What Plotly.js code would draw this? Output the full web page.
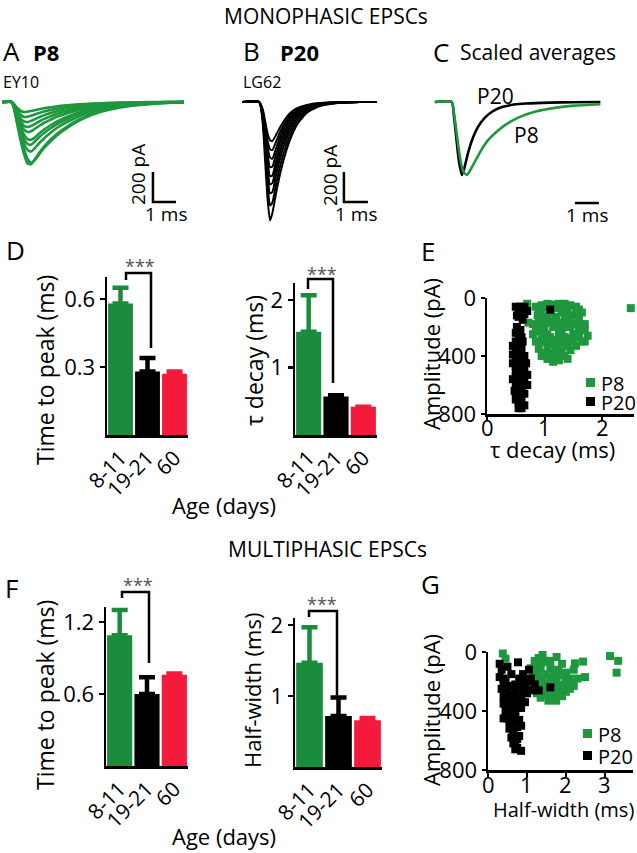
<!DOCTYPE html>
<html><head><meta charset="utf-8">
<script src="https://cdn.plot.ly/plotly-3.0.1.min.js"></script>
<style>html,body{margin:0;padding:0;background:#fff;}#chart{width:637px;height:853px;}</style>
</head><body><div id="chart"></div>
<script>
// ---------- DATA ----------
// Panel A: P8 monophasic EPSCs (time ms, current pA)
const tA = [0.1, 0.5, 0.6, 0.75, 0.9, 1.05, 1.2, 1.35, 1.5, 1.7, 1.9, 2.2, 2.5, 2.9, 3.4, 4.0, 4.8, 5.6, 6.5, 7.3, 8.0];
const p8Trace1 = [0, 0, -40, -150, -260, -350, -410, -415, -385, -340, -300, -250, -210, -165, -120, -80, -45, -25, -12, -5, 0];
const p8Trace2 = [0, 0, -35, -130, -235, -320, -380, -405, -390, -350, -310, -262, -220, -175, -128, -85, -50, -28, -14, -6, 0];
const p8Trace3 = [0, 0, -30, -120, -210, -280, -320, -330, -310, -275, -245, -205, -170, -135, -98, -65, -38, -20, -10, -4, 0];
const p8Trace4 = [0, 0, -30, -110, -190, -250, -280, -285, -265, -235, -208, -175, -145, -115, -82, -55, -32, -17, -8, -3, 0];
const p8Trace5 = [0, 0, -25, -100, -170, -220, -248, -252, -238, -210, -185, -155, -128, -100, -72, -48, -28, -15, -7, -3, 0];
const p8Trace6 = [0, 0, -25, -90, -150, -185, -200, -195, -180, -160, -140, -118, -97, -76, -55, -36, -21, -11, -5, -2, 0];
const p8Trace7 = [0, 0, -20, -80, -130, -160, -167, -160, -148, -130, -114, -95, -78, -61, -44, -29, -17, -9, -4, -2, 0];
const p8Trace8 = [0, 0, -20, -70, -110, -130, -133, -126, -116, -102, -89, -74, -61, -48, -34, -22, -13, -7, -3, -1, 0];
const p8Trace9 = [0, 0, -15, -55, -85, -100, -98, -92, -84, -74, -64, -53, -44, -34, -24, -16, -9, -5, -2, -1, 0];
const p8Trace10 = [0, 0, -12, -40, -60, -67, -64, -60, -55, -48, -42, -35, -28, -22, -16, -10, -6, -3, -1, 0, 0];
// Panel B: P20 monophasic EPSCs
const tB = [0.1, 0.8, 0.95, 1.05, 1.15, 1.25, 1.35, 1.5, 1.7, 1.9, 2.1, 2.4, 2.8, 3.3, 4.0, 5.0, 5.7];
const p20Trace1 = [0, 0, -150, -400, -650, -790, -740, -610, -460, -340, -245, -145, -70, -28, -8, 0, 0];
const p20Trace2 = [0, 0, -120, -340, -560, -690, -670, -550, -410, -300, -215, -125, -60, -24, -7, 0, 0];
const p20Trace3 = [0, 0, -110, -300, -490, -610, -600, -490, -360, -260, -185, -108, -52, -20, -6, 0, 0];
const p20Trace4 = [0, 0, -100, -280, -450, -550, -540, -440, -320, -230, -160, -92, -44, -17, -5, 0, 0];
const p20Trace5 = [0, 0, -90, -250, -400, -495, -490, -395, -285, -200, -138, -78, -37, -14, -4, 0, 0];
const p20Trace6 = [0, 0, -80, -220, -350, -435, -430, -350, -250, -175, -118, -66, -31, -12, -4, 0, 0];
const p20Trace7 = [0, 0, -70, -190, -300, -370, -378, -310, -220, -150, -100, -56, -26, -10, -3, 0, 0];
const p20Trace8 = [0, 0, -60, -160, -260, -315, -320, -265, -190, -130, -86, -48, -22, -8, -2, 0, 0];
const p20Trace9 = [0, 0, -50, -130, -210, -255, -260, -220, -160, -110, -72, -40, -19, -7, -2, 0, 0];
// Panel C: scaled averages (normalised)
const tAvgP20 = [0.2, 0.9, 1.0, 1.1, 1.2, 1.33, 1.45, 1.6, 1.8, 2.0, 2.3, 2.6, 3.0, 3.5, 4.0, 5.0, 6.0, 7.1];
const avgP20 = [0, 0, -0.2, -0.5, -0.8, -1.0, -0.88, -0.68, -0.48, -0.34, -0.21, -0.13, -0.07, -0.035, -0.02, -0.008, -0.003, 0];
const tAvgP8 = [0.2, 0.9, 1.0, 1.1, 1.2, 1.3, 1.4, 1.54, 1.7, 1.9, 2.1, 2.4, 2.8, 3.2, 3.7, 4.4, 5.2, 6.0, 7.1];
const avgP8 = [0, 0, -0.15, -0.4, -0.65, -0.85, -0.96, -1.0, -0.92, -0.8, -0.68, -0.53, -0.4, -0.3, -0.21, -0.13, -0.08, -0.05, -0.03];
// Bar panels
const ageCats = ['8-11', '19-21', '60'];
const monoTTP = [0.58, 0.28, 0.27], monoTTPerr = [0.07, 0.06, 0.01];
const monoTau = [1.53, 0.57, 0.42], monoTauErr = [0.54, 0.02, 0.0];
const multiTTP = [1.09, 0.60, 0.76], multiTTPerr = [0.21, 0.14, 0.01];
const multiHW = [1.47, 0.72, 0.66], multiHWerr = [0.50, 0.26, 0.03];
// Scatter tick labels
const tauTicks = [0, 1, 2];
const hwTicks = [0, 1, 2, 3];
const ampTicks = [0, 400, 800];
// Panel E scatter (tau decay ms, amplitude pA)
const eP8Tau = [0.7,0.72,0.85,0.95,1.05,1.15,1.25,1.35,1.45,1.55,1.5,1.6,1.7,1.75,1.65,1.55,1.45,1.35,1.25,1.15,1.05,0.95,0.9,0.85,0.8,0.85,0.9,0.95,1.0,1.1,1.2,1.3,1.4,1.35,1.25,1.15,1.05,1.0,1.1,1.2,1.3,1.4,1.5,1.45,1.6,1.55,1.05,1.15,1.25,0.95,0.88,1.0,1.1,1.2,1.3,1.4,1.5,1.6,1.4,1.2,2.5,1.3,1.15,0.95,1.05,
  0.9,1.0,1.1,1.2,1.3,1.45,1.35,1.5,1.6,1.7,1.25,1.05,0.95,1.0,1.1,1.2,1.3,1.4,0.9,0.8,1.65,1.55,1.45,1.3,1.15,1.25,1.05,1.35,1.6,1.7];
const eP8Amp = [40,170,60,50,40,45,40,40,50,60,120,150,220,260,300,330,360,400,430,440,420,400,350,300,250,200,150,100,150,100,130,100,150,200,250,200,250,300,320,350,300,280,250,200,230,180,350,380,380,250,120,200,270,290,170,330,300,80,90,70,70,230,160,180,130,
  80,60,50,200,330,300,140,180,190,180,180,170,300,380,400,410,380,420,230,180,100,100,130,60,300,330,290,270,270,300];
const eP20Tau = [0.5,0.55,0.6,0.65,0.7,0.62,0.55,0.65,0.55,0.6,0.5,0.45,0.5,0.55,0.45,0.5,0.55,0.6,0.62,0.65,0.6,0.55,0.5,0.6,0.65,0.55,0.62,0.5,0.55,0.6,0.65,0.5,0.55,0.6,0.5,0.55,0.6,0.5,0.55,0.65,0.68,0.7,0.52,0.58,1.1,
  0.45,0.5,0.45,0.6,0.65,0.55,0.6,0.6,0.5,0.6,0.7,0.48,0.52,0.58];
const eP20Amp = [60,100,80,110,90,150,130,60,250,270,300,330,360,330,390,410,390,350,300,400,430,450,470,480,500,510,540,540,570,580,560,600,620,640,650,680,690,700,720,740,450,600,200,220,80,
  450,500,560,620,660,760,760,520,240,400,530,640,120,60];
// Panel G scatter (half-width ms, amplitude pA)
const gP8HW = [0.38,0.45,1.2,1.3,1.4,1.25,1.35,1.5,1.6,1.76,1.7,1.8,1.9,2.0,1.95,1.85,1.7,1.55,1.45,1.35,1.3,1.4,1.55,1.65,1.75,1.85,2.1,2.0,2.23,2.44,2.49,2.3,2.2,1.15,1.25,3.13,3.34,3.3,1.6,1.5,1.1,1.9,2.1,
  1.2,1.4,1.6,1.3,1.45,1.6,1.8,1.9,2.0,1.75,1.65,1.25,1.35,2.2,1.15,1.5];
const gP8Amp = [10,45,80,40,20,120,100,150,110,34,150,120,160,200,250,280,300,330,280,250,200,180,220,230,200,220,250,140,77,65,170,180,120,170,280,27,60,140,280,60,110,80,180,
  60,70,60,150,220,170,250,300,270,330,320,230,310,230,250,250];
const gP20HW = [0.3,0.5,0.77,0.3,0.45,0.6,0.8,0.9,1.0,1.1,1.2,1.3,1.6,1.05,0.35,0.4,0.5,0.6,0.7,0.85,0.9,1.0,0.4,0.45,0.55,0.65,0.75,0.85,0.5,0.6,0.7,0.8,0.55,0.65,0.75,0.85,0.6,0.7,0.8,0.75,0.85,0.65,0.4,0.5,0.95,0.7,0.4,
  0.35,0.4,0.55,0.65,0.75,0.5,0.6,0.7,0.55,0.65,0.75,0.7,0.45,0.95,1.15,0.85,0.6,0.7];
const gP20Amp = [80,100,70,170,200,150,180,150,200,180,220,260,240,120,250,300,280,320,260,300,250,280,350,400,380,400,350,380,450,470,440,460,520,540,510,500,580,600,570,650,670,620,450,330,340,220,180,
  120,220,230,290,300,380,420,480,470,560,590,660,320,230,260,230,350,400];

// ---------- STYLE / LAYOUT ----------
const W = 637, H = 853;
const FONT = 'Open Sans, Noto Sans, sans-serif';
const GREEN = '#1f973f', BARGREEN = '#1a8c3c', RED = '#f31a3c', BLACK = '#000000';
const barColors = [BARGREEN, BLACK, RED];
const xd = (a, b) => [a / W, b / W];
const yd = (top, bot) => [1 - bot / H, 1 - top / H];
const PX = x => x / W, PY = y => 1 - y / H;

const traces = [];
const p8Set = [p8Trace1,p8Trace2,p8Trace3,p8Trace4,p8Trace5,p8Trace6,p8Trace7,p8Trace8,p8Trace9,p8Trace10];
p8Set.forEach(v => traces.push({x: tA, y: v, xaxis: 'x', yaxis: 'y', mode: 'lines',
  line: {color: GREEN, width: 2.6, shape: 'spline', smoothing: 0.5}}));
const p20Set = [p20Trace1,p20Trace2,p20Trace3,p20Trace4,p20Trace5,p20Trace6,p20Trace7,p20Trace8,p20Trace9];
p20Set.forEach(v => traces.push({x: tB, y: v, xaxis: 'x2', yaxis: 'y2', mode: 'lines',
  line: {color: BLACK, width: 2.0, shape: 'spline', smoothing: 0.5}}));
traces.push({x: tAvgP20, y: avgP20, xaxis: 'x3', yaxis: 'y3', mode: 'lines', line: {color: BLACK, width: 2.6, shape: 'spline', smoothing: 0.6}});
traces.push({x: tAvgP8, y: avgP8, xaxis: 'x3', yaxis: 'y3', mode: 'lines', line: {color: GREEN, width: 2.6, shape: 'spline', smoothing: 0.6}});
// scale bars (1 ms, 200 pA) in data units
const sbLine = {color: BLACK, width: 2.5};
traces.push({x: [6.65, 6.65, 7.65], y: [-467, -667, -667], xaxis: 'x', yaxis: 'y', mode: 'lines', line: sbLine});
traces.push({x: [4.33, 4.33, 5.33], y: [-467, -667, -667], xaxis: 'x2', yaxis: 'y2', mode: 'lines', line: sbLine});
traces.push({x: [6.04, 7.04], y: [-1.384, -1.384], xaxis: 'x3', yaxis: 'y3', mode: 'lines', line: sbLine});

function addBars(vals, errs, xa, ya) {
  vals.forEach((v, i) => traces.push({type: 'bar', x: [ageCats[i]], y: [v], xaxis: xa, yaxis: ya,
    marker: {color: barColors[i], line: {width: 0}},
    error_y: {type: 'data', array: [errs[i]], arrayminus: [0], symmetric: false, color: barColors[i], thickness: 4.5, width: 8}}));
}
addBars(monoTTP, monoTTPerr, 'x4', 'y4');
addBars(monoTau, monoTauErr, 'x5', 'y5');
addBars(multiTTP, multiTTPerr, 'x7', 'y7');
addBars(multiHW, multiHWerr, 'x8', 'y8');

const mk = c => ({symbol: 'square', size: 8, color: c, line: {width: 0}});
traces.push({x: eP8Tau, y: eP8Amp, xaxis: 'x6', yaxis: 'y6', mode: 'markers', marker: mk(GREEN), cliponaxis: false});
traces.push({x: eP20Tau, y: eP20Amp, xaxis: 'x6', yaxis: 'y6', mode: 'markers', marker: mk(BLACK), cliponaxis: false});
traces.push({x: gP8HW, y: gP8Amp, xaxis: 'x9', yaxis: 'y9', mode: 'markers', marker: mk(GREEN), cliponaxis: false});
traces.push({x: gP20HW, y: gP20Amp, xaxis: 'x9', yaxis: 'y9', mode: 'markers', marker: mk(BLACK), cliponaxis: false});
traces.forEach(t => { t.showlegend = false; t.hoverinfo = 'skip'; });

const hidden = (dom, range, anchor) => ({domain: dom, range: range, visible: false, fixedrange: true, anchor: anchor});
const tickFont = {family: FONT, size: 22, color: BLACK};
const barX = (dom, anchor) => ({domain: dom, anchor: anchor, type: 'category', showline: true, linewidth: 2.5, linecolor: BLACK,
  ticks: '', tickangle: -45, tickfont: {family: FONT, size: 21, color: BLACK}, showgrid: false, zeroline: false, range: [-0.5, 2.5]});
const barY = (dom, anchor, range, tv) => ({domain: dom, anchor: anchor, range: range, showline: true, linewidth: 2.5, linecolor: BLACK,
  ticks: 'outside', ticklen: 5, tickwidth: 2.5, tickcolor: BLACK, tickvals: tv, tickfont: tickFont, showgrid: false, zeroline: false});
const scX = (dom, anchor, range, tv, showLab) => ({domain: dom, anchor: anchor, range: range, showline: true, linewidth: 2.5, linecolor: BLACK,
  ticks: 'outside', ticklen: 4, tickwidth: 2, tickcolor: BLACK, tickvals: tv, tickfont: tickFont, showgrid: false, zeroline: false,
  showticklabels: showLab});

const layout = {
  width: W, height: H, margin: {l: 0, r: 0, t: 0, b: 0}, paper_bgcolor: '#fff', plot_bgcolor: 'rgba(0,0,0,0)',
  showlegend: false, barmode: 'overlay', bargap: 0.08, font: {family: FONT, color: BLACK},
  xaxis: hidden(xd(0, 190), [0, 190 / 23], 'y'),
  yaxis: hidden(yd(60, 240), [-920, 280], 'x'),
  xaxis2: hidden(xd(240, 380), [0, 140 / 24], 'y2'),
  yaxis2: hidden(yd(60, 240), [-920, 280], 'x2'),
  xaxis3: hidden(xd(430, 605), [0, 175 / 24], 'y3'),
  yaxis3: hidden(yd(60, 240), [-138 / 73, 42 / 73], 'x3'),
  xaxis4: barX(xd(107, 188), 'y4'),
  yaxis4: barY(yd(277, 435), 'x4', [0, 0.697], [0.3, 0.6]),
  xaxis5: barX(xd(295, 377), 'y5'),
  yaxis5: barY(yd(283, 435), 'x5', [0, 2.25], [1, 2]),
  xaxis6: scX(xd(487, 634), 'y6', [0, 2.556], tauTicks, false),
  yaxis6: scX(yd(298, 414), 'x6', [800, 0], ampTicks, true),
  xaxis7: barX(xd(106, 188), 'y7'),
  yaxis7: barY(yd(607, 766), 'x7', [0, 1.325], [0.6, 1.2]),
  xaxis8: barX(xd(295, 382), 'y8'),
  yaxis8: barY(yd(618, 767), 'x8', [0, 2.1], [1, 2]),
  xaxis9: scX(xd(488, 633), 'y9', [0, 3.72], hwTicks, false),
  yaxis9: scX(yd(652, 770), 'x9', [800, 0], ampTicks, true),
  shapes: [], annotations: []
};

// significance brackets (pixel positions)
function bracket(xl, xr, ytop, yl, yr) {
  const ln = {color: BLACK, width: 2.5};
  layout.shapes.push({type: 'path', xref: 'paper', yref: 'paper',
    path: `M ${PX(xl)} ${PY(yl)} L ${PX(xl)} ${PY(ytop)} L ${PX(xr)} ${PY(ytop)} L ${PX(xr)} ${PY(yr)}`, line: ln});
}
bracket(126, 151, 273, 280, 348);
bracket(308, 333, 279, 289, 383);
bracket(122, 149, 592, 598, 663);
bracket(309, 337, 611, 617, 697);

// legend squares
function sq(x, y, c) { layout.shapes.push({type: 'rect', xref: 'paper', yref: 'paper', x0: PX(x), x1: PX(x + 9), y0: PY(y + 9), y1: PY(y), fillcolor: c, line: {width: 0}}); }
sq(586, 378, GREEN); sq(586, 397, BLACK);
sq(583, 729, GREEN); sq(583, 751, BLACK);

function ann(text, x, y, size, o) {
  o = o || {};
  layout.annotations.push(Object.assign({text: text, x: PX(x), y: PY(y), xref: 'paper', yref: 'paper', showarrow: false,
    xanchor: 'center', yanchor: 'middle', font: {family: FONT, size: size, color: o.color || BLACK}}, o.extra || {}));
}
// x tick labels of the scatter panels, positioned on the axis scale
tauTicks.forEach(v => layout.annotations.push({text: String(v), x: v, xref: 'x6', y: PY(427), yref: 'paper', showarrow: false,
  xanchor: 'center', yanchor: 'middle', font: tickFont}));
hwTicks.forEach(v => layout.annotations.push({text: String(v), x: v, xref: 'x9', y: PY(784), yref: 'paper', showarrow: false,
  xanchor: 'center', yanchor: 'middle', font: tickFont}));

ann('MONOPHASIC EPSCs', 326, 16, 21);
ann('MULTIPHASIC EPSCs', 327, 549, 21);
ann('A', 1, 51, 26, {extra: {xanchor: 'left'}});
ann('<b>P8</b>', 31, 52, 22, {extra: {xanchor: 'left'}});
ann('EY10', 1, 82, 16, {extra: {xanchor: 'left'}});
ann('B', 241, 51, 26, {extra: {xanchor: 'left'}});
ann('<b>P20</b>', 278, 52, 22, {extra: {xanchor: 'left'}});
ann('LG62', 241, 82, 16, {extra: {xanchor: 'left'}});
ann('C', 431, 52, 26, {extra: {xanchor: 'left'}});
ann('Scaled averages', 458, 52, 21, {extra: {xanchor: 'left'}});
ann('200 pA', 138, 175, 19, {extra: {textangle: -90}});
ann('1 ms', 166, 214, 19);
ann('200 pA', 330, 175, 19, {extra: {textangle: -90}});
ann('1 ms', 356, 214, 19);
ann('1 ms', 587, 215, 19);
ann('P20', 495, 96, 21);
ann('P8', 526, 135, 21);
ann('D', 4, 250, 26, {extra: {xanchor: 'left'}});
ann('E', 419, 251, 26, {extra: {xanchor: 'left'}});
ann('F', 3, 588, 26, {extra: {xanchor: 'left'}});
ann('G', 419, 584, 26, {extra: {xanchor: 'left'}});
ann('Time to peak (ms)', 45, 370, 23, {extra: {textangle: -90}});
ann('τ decay (ms)', 254, 361, 23, {extra: {textangle: -90}});
ann('Amplitude (pA)', 431, 354, 22, {extra: {textangle: -90}});
ann('τ decay (ms)', 552, 449, 22);
ann('Age (days)', 224, 505, 22);
ann('Time to peak (ms)', 45, 695, 23, {extra: {textangle: -90}});
ann('Half-width (ms)', 252, 691, 22, {extra: {textangle: -90}});
ann('Amplitude (pA)', 431, 710, 22, {extra: {textangle: -90}});
ann('Half-width (ms)', 563, 809, 20);
ann('Age (days)', 224, 836, 22);
ann('***', 140, 266, 18, {color: '#555'});
ann('***', 322, 274, 18, {color: '#555'});
ann('***', 138, 585, 18, {color: '#555'});
ann('***', 322, 604, 18, {color: '#555'});
ann('P8', 599, 383, 20, {extra: {xanchor: 'left'}});
ann('P20', 599, 402, 20, {extra: {xanchor: 'left'}});
ann('P8', 596, 734, 20, {extra: {xanchor: 'left'}});
ann('P20', 596, 756, 20, {extra: {xanchor: 'left'}});

Plotly.newPlot('chart', traces, layout, {displayModeBar: false, staticPlot: true});
</script></body></html>
